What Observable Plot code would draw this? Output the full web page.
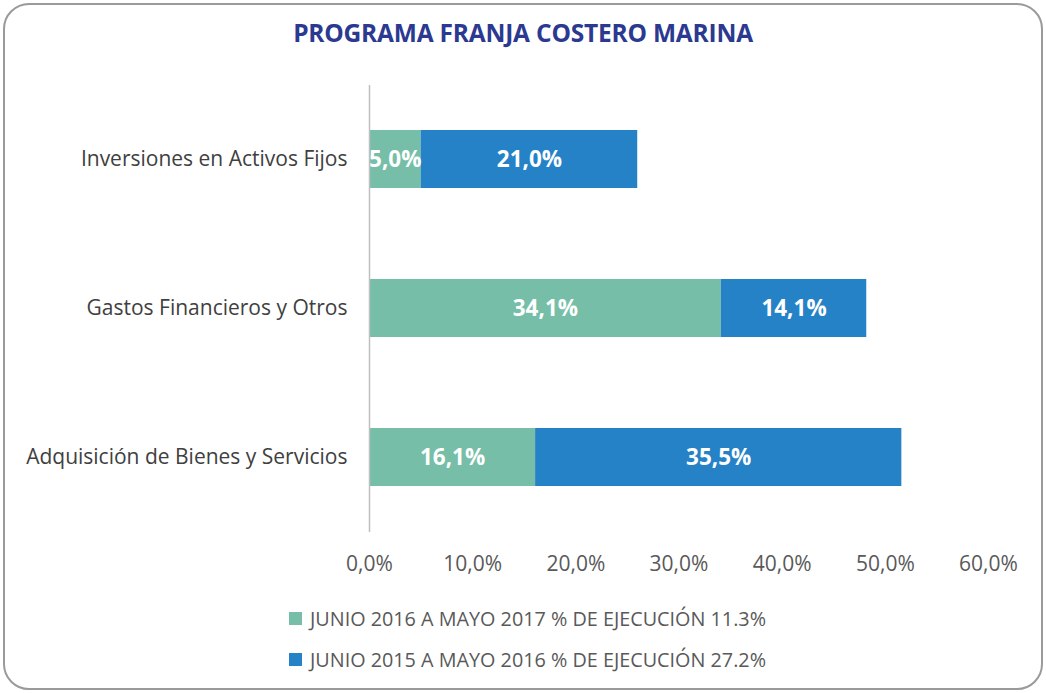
<!DOCTYPE html>
<html>
<head>
<meta charset="utf-8">
<script src="https://cdn.jsdelivr.net/npm/d3@7"></script>
<script src="https://cdn.jsdelivr.net/npm/@observablehq/plot@0.6"></script>
<style>
  html, body { margin: 0; padding: 0; background: #fff; }
  #wrap { position: relative; width: 1046px; height: 693px; font-family: "Open Sans", "Noto Sans", sans-serif; }
  #frame { position: absolute; left: 3px; top: 3px; width: 1036px; height: 683px; border: 2px solid #9a9a9a; border-radius: 26px; box-sizing: content-box; }
  #title { position: absolute; left: 0; width: 1046px; top: 16px; text-align: center; font-weight: 700; font-size: 24.5px; color: #2B3990; letter-spacing: -0.2px; }
  #chart { position: absolute; left: 0; top: 0; }
  .leg { position: absolute; left: 289px; font-size: 19.8px; color: #595959; display: flex; align-items: center; white-space: nowrap; }
  .sw { width: 13px; height: 13px; margin-right: 8px; }
</style>
</head>
<body>
<div id="wrap">
  <div id="frame"></div>
  <div id="chart"></div>
  <div id="title"></div>
  <div id="legend"></div>
</div>
<script>
const title = "PROGRAMA FRANJA COSTERO MARINA";
const categories = ["Inversiones en Activos Fijos", "Gastos Financieros y Otros", "Adquisición de Bienes y Servicios"];
const seriesNames = ["JUNIO 2016 A MAYO 2017 % DE EJECUCIÓN 11.3%", "JUNIO 2015 A MAYO 2016 % DE EJECUCIÓN 27.2%"];
const seriesColors = ["#76BEA7", "#2682C6"];
const values2016_2017 = [5.0, 34.1, 16.1];
const values2015_2016 = [21.0, 14.1, 35.5];
const xTicks = [0, 10, 20, 30, 40, 50, 60];

const rows = [];
categories.forEach((c, i) => rows.push({cat: c, series: seriesNames[0], value: values2016_2017[i]}));
categories.forEach((c, i) => rows.push({cat: c, series: seriesNames[1], value: values2015_2016[i]}));

const fmt = d => d.toFixed(1).replace(".", ",") + "%";

document.getElementById("title").textContent = title;

const chart = Plot.plot({
  width: 1046,
  height: 693,
  marginLeft: 369,
  marginRight: 58,
  marginTop: 85,
  marginBottom: 161,
  style: {fontFamily: "'Open Sans', 'Noto Sans', sans-serif", background: "transparent"},
  x: {domain: [0, 60], ticks: xTicks, tickFormat: fmt},
  y: {domain: categories, paddingInner: 0.61, paddingOuter: 0.305},
  color: {domain: seriesNames, range: seriesColors},
  marks: [
    Plot.barX(rows, Plot.stackX({x: "value", y: "cat", fill: "series", order: null})),
    Plot.text(rows, Plot.stackX({x: "value", y: "cat", z: "series", order: null, text: d => fmt(d.value), fill: "white", fontWeight: "bold", fontSize: 22.5})),
    Plot.ruleX([0], {stroke: "#bfbfbf", strokeWidth: 1.5}),
    Plot.axisX({ticks: xTicks, tickFormat: fmt, tickSize: 0, tickPadding: 24, fontSize: 21, fill: "#595959", label: null}),
    Plot.axisY({tickSize: 0, tickPadding: 22, fontSize: 21, fill: "#404040", label: null})
  ]
});
document.getElementById("chart").appendChild(chart);

const legend = document.getElementById("legend");
seriesNames.forEach((s, i) => {
  const d = document.createElement("div");
  d.className = "leg";
  d.style.top = (605 + i * 41) + "px";
  const sw = document.createElement("span");
  sw.className = "sw";
  sw.style.background = seriesColors[i];
  const t = document.createElement("span");
  t.textContent = s;
  d.appendChild(sw); d.appendChild(t);
  legend.appendChild(d);
});
</script>
</body>
</html>
